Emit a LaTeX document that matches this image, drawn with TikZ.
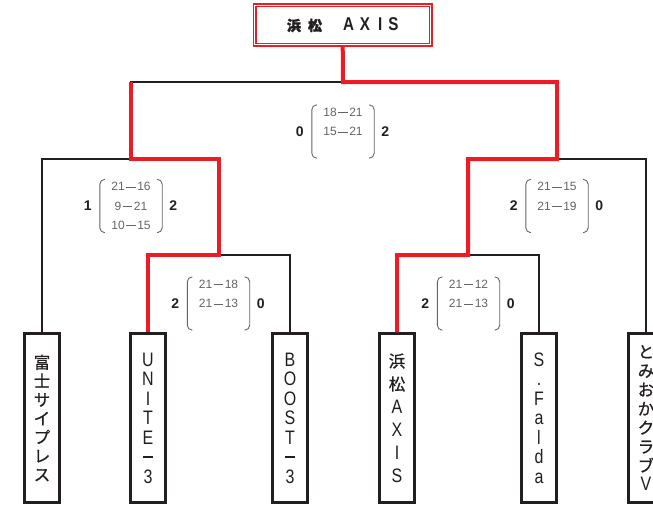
\documentclass[tikz,border=0pt]{standalone}
\usepackage{fontspec}
\setmainfont{Liberation Sans}
\newfontfamily\narrowfont{Liberation Sans}[FakeStretch=0.82]
\newfontfamily\jpfont{Noto Sans CJK JP}[FakeBold=0.8]
\newfontfamily\jptitle{Noto Sans CJK JP}[FakeBold=2]
\newcommand\jpc[1]{{\jpfont\fontsize{16.5}{19}\selectfont #1}}
\newcommand\scoredash{\hspace{1.5pt}\rule[3.3pt]{9.5pt}{0.7pt}\hspace{1.5pt}}
\newcommand\bardash{\rule[6pt]{10pt}{1.8pt}}
\definecolor{winred}{RGB}{237,28,36}
\definecolor{ink}{RGB}{35,31,32}
\definecolor{scoregray}{RGB}{100,100,100}
\begin{document}
\begin{tikzpicture}[x=1pt, y=-1pt,
    team/.style={draw=ink, line width=2.5pt, minimum width=35pt, minimum height=169pt,
        inner sep=0pt, align=center, text=ink, font=\narrowfont\fontsize{19.5}{19.5}\selectfont},
    bracket/.style={draw=ink, line width=1.5pt},
    winline/.style={draw=winred, line width=4pt},
    score/.style={minimum width=62pt, minimum height=53pt, inner sep=0pt, align=center,
        text=scoregray, font=\fontsize{12}{19.2}\selectfont},
    games/.style={text=ink, inner sep=0pt, font=\bfseries\fontsize{14}{14}\selectfont},
    paren/.style={draw=scoregray, line width=0.9pt, rounded corners=5pt}]
    \useasboundingbox (0,0) rectangle (653,504);

    % 優勝
    \node[draw=winred, double=white, double distance=1.5pt, line width=1.3pt,
        minimum width=176pt, minimum height=39.3pt, inner sep=0pt, text=ink,
        font=\narrowfont\bfseries\fontsize{18.5}{18.5}\selectfont] (champ) at (342.7,25)
        {{\jptitle\fontsize{14}{14}\selectfont 浜\hspace{7pt}松}\hspace{21pt}A\hspace{6pt}X\hspace{8pt}I\hspace{6pt}S};

    % チーム
    \node[team, font=\jpfont\fontsize{16.5}{18.7}\selectfont] (fuji) at (42,418)
        {富\\士\\サ\\イ\\プ\\レ\\ス};
    \node[team] (unite) at (148,418) {U\\N\\I\\T\\E\\\bardash\\3};
    \node[team] (boost) at (290,418) {B\\O\\O\\S\\T\\\bardash\\3};
    \node[team, font=\narrowfont\fontsize{19.5}{23}\selectfont] (axis) at (397,418)
        {\jpc{浜}\\\jpc{松}\\A\\X\\I\\S};
    \node[team] (falda) at (539,418) {S\\.\\F\\a\\l\\d\\a};
    \node[team, font=\narrowfont\fontsize{19.5}{19}\selectfont] (tomioka) at (646,418)
        {\jpc{と}\\\jpc{み}\\\jpc{お}\\\jpc{か}\\\jpc{ク}\\\jpc{ラ}\\\jpc{ブ}\\V};

    % 分岐点
    \coordinate (qL) at (219,255);
    \coordinate (qR) at (468,255);
    \coordinate (sL) at (130.5,159);
    \coordinate (sR) at (557,159);
    \coordinate (top) at (343,82);

    % トーナメント線
    \draw[bracket] (unite.north) |- (qL) -| (boost.north);
    \draw[bracket] (axis.north) |- (qR) -| (falda.north);
    \draw[bracket] (fuji.north) |- (sL) -| (qL);
    \draw[bracket] (qR) |- (sR) -| (tomioka.north);
    \draw[bracket] (sL) |- (top) -| (sR);

    % 勝ち上がり
    \draw[winline] (unite.north) |- (qL) |- (sL) -- (sL |- top);
    \draw[winline] (axis.north) |- (qR) |- (sR) |- (top) -- (champ.south);

    % スコア
    \node[score] (scF) at (343,131.5) {18\scoredash21\\15\scoredash21\\\phantom{0}};
    \node[score] (scL) at (131,206) {21\scoredash16\\9\scoredash21\\10\scoredash15};
    \node[score] (scR) at (557,206) {21\scoredash15\\21\scoredash19\\\phantom{0}};
    \node[score] (qsL) at (218.5,303.5) {21\scoredash18\\21\scoredash13\\\phantom{0}};
    \node[score] (qsR) at (468.5,303.5) {21\scoredash12\\21\scoredash13\\\phantom{0}};
    \foreach \s in {scF,scL,scR,qsL,qsR}
        \draw[paren] ([xshift=5pt]\s.north west) -- (\s.north west) -- (\s.south west) -- ([xshift=5pt]\s.south west)
            ([xshift=-5pt]\s.north east) -- (\s.north east) -- (\s.south east) -- ([xshift=-5pt]\s.south east);

    \node[games] (scFa) at ([xshift=-12pt]scF.west) {0};
    \node[games] (scFb) at ([xshift=11pt]scF.east) {2};
    \node[games] (scLa) at ([xshift=-12pt]scL.west) {1};
    \node[games] (scLb) at ([xshift=11pt]scL.east) {2};
    \node[games] (scRa) at ([xshift=-12pt]scR.west) {2};
    \node[games] (scRb) at ([xshift=11pt]scR.east) {0};
    \node[games] (qsLa) at ([xshift=-12pt]qsL.west) {2};
    \node[games] (qsLb) at ([xshift=11pt]qsL.east) {0};
    \node[games] (qsRa) at ([xshift=-12pt]qsR.west) {2};
    \node[games] (qsRb) at ([xshift=11pt]qsR.east) {0};
\end{tikzpicture}
\end{document}
